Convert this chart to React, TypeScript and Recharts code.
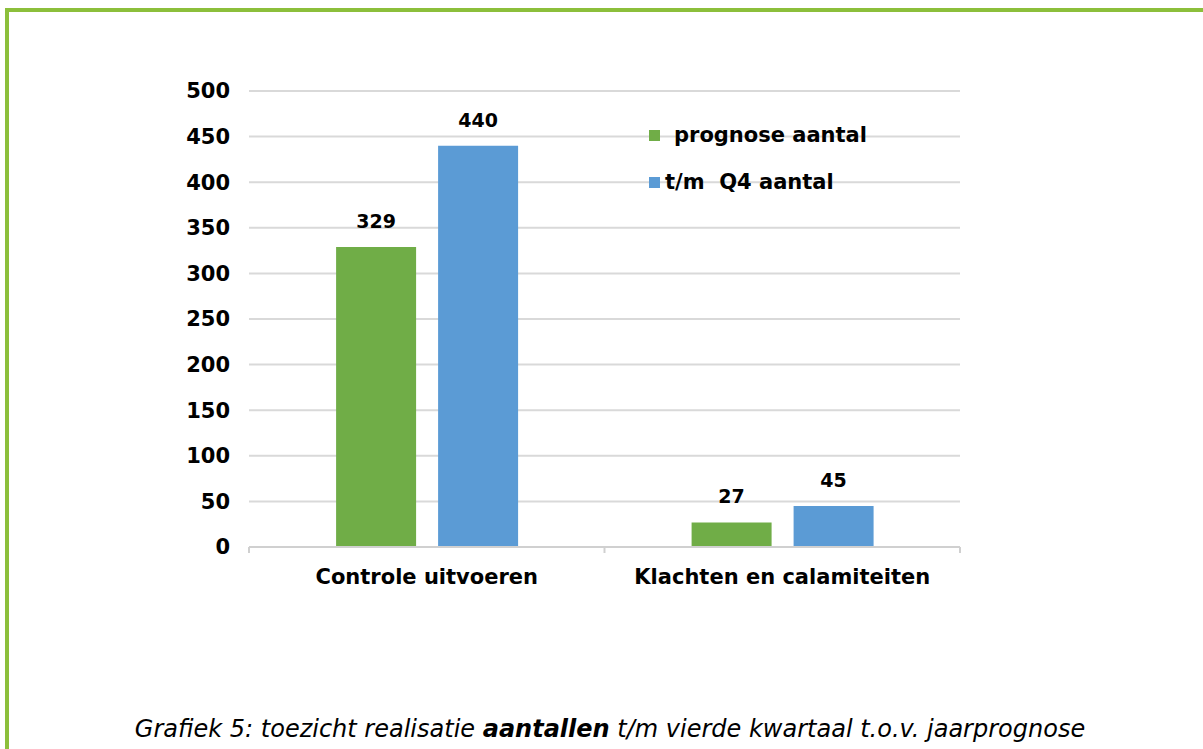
import { Bar, BarChart, CartesianGrid, LabelList, XAxis, YAxis } from "recharts";

const categories = ["Controle uitvoeren", "Klachten en calamiteiten"];
const prognose = [329, 27];
const realisatie = [440, 45];
const yTicks = [0, 50, 100, 150, 200, 250, 300, 350, 400, 450, 500];

const data = categories.map((name, i) => ({
  name,
  prognose: prognose[i],
  realisatie: realisatie[i]
}));

const FONT = "'DejaVu Sans', Verdana, sans-serif";
const GREEN = "#70ad47";
const BLUE = "#5b9bd5";

// categorie-label plus de kleine streepjes op de grenzen tussen categorieën
function CategoryTick(props: any) {
  const { x, y, payload, width } = props;
  const half = width / categories.length / 2;
  return (
    <g>
      <line x1={x - half} x2={x - half} y1={y - 8} y2={y - 2} stroke="#d0d0d0" strokeWidth={2} />
      {payload.index === categories.length - 1 && (
        <line x1={x + half} x2={x + half} y1={y - 8} y2={y - 2} stroke="#d0d0d0" strokeWidth={2} />
      )}
      <text x={x} y={y + 29} textAnchor="middle" fontFamily={FONT} fontWeight="bold" fontSize={21} fill="#000">
        {payload.value}
      </text>
    </g>
  );
}

function ChartLegend() {
  return (
    <div
      style={{
        position: "absolute",
        left: 649,
        top: 122,
        fontFamily: FONT,
        fontWeight: "bold",
        fontSize: 21,
        color: "#000",
        whiteSpace: "pre"
      }}
    >
      <div style={{ display: "flex", alignItems: "center", height: 26 }}>
        <span style={{ width: 11, height: 11, background: GREEN, display: "inline-block", marginRight: 14 }} />
        <span>prognose aantal</span>
      </div>
      <div style={{ display: "flex", alignItems: "center", height: 26, marginTop: 21 }}>
        <span style={{ width: 11, height: 11, background: BLUE, display: "inline-block", marginRight: 5 }} />
        <span>t/m  Q4 aantal</span>
      </div>
    </div>
  );
}

export default function App() {
  return (
    <div style={{ position: "absolute", left: 0, top: 0, width: 1203, height: 749, background: "#fff", overflow: "hidden" }}>
      <div
        style={{
          position: "absolute",
          left: 5,
          top: 8,
          width: 1300,
          height: 800,
          borderTop: "4px solid #8cbf3b",
          borderLeft: "4px solid #8cbf3b"
        }}
      />
      <div style={{ position: "absolute", left: 0, top: 0 }}>
        <BarChart
          width={1203}
          height={749}
          data={data}
          margin={{ top: 91, right: 243, bottom: 172, left: 179 }}
          barCategoryGap="24.5%"
          barGap={22}
        >
          <CartesianGrid vertical={false} stroke="#d9d9d9" strokeWidth={2} />
          <XAxis
            dataKey="name"
            axisLine={{ stroke: "#d0d0d0", strokeWidth: 2 }}
            tickLine={false}
            tick={<CategoryTick />}
            height={30}
          />
          <YAxis
            domain={[0, 500]}
            ticks={yTicks}
            axisLine={false}
            tickLine={false}
            width={70}
            tickMargin={13}
            tick={{ fontFamily: FONT, fontWeight: "bold", fontSize: 21, fill: "#000" }}
          />
          <Bar dataKey="prognose" fill={GREEN} isAnimationActive={false}>
            <LabelList
              dataKey="prognose"
              position="top"
              offset={19}
              style={{ fontFamily: FONT, fontWeight: "bold", fontSize: 19, fill: "#000" }}
            />
          </Bar>
          <Bar dataKey="realisatie" fill={BLUE} isAnimationActive={false}>
            <LabelList
              dataKey="realisatie"
              position="top"
              offset={19}
              style={{ fontFamily: FONT, fontWeight: "bold", fontSize: 19, fill: "#000" }}
            />
          </Bar>
        </BarChart>
      </div>
      <ChartLegend />
      <div
        style={{
          position: "absolute",
          left: 0,
          width: 1220,
          top: 715,
          textAlign: "center",
          fontFamily: FONT,
          fontStyle: "italic",
          fontSize: 24,
          color: "#000",
          whiteSpace: "nowrap"
        }}
      >
        Grafiek 5: toezicht realisatie <b>aantallen</b> t/m vierde kwartaal t.o.v. jaarprognose
      </div>
    </div>
  );
}
